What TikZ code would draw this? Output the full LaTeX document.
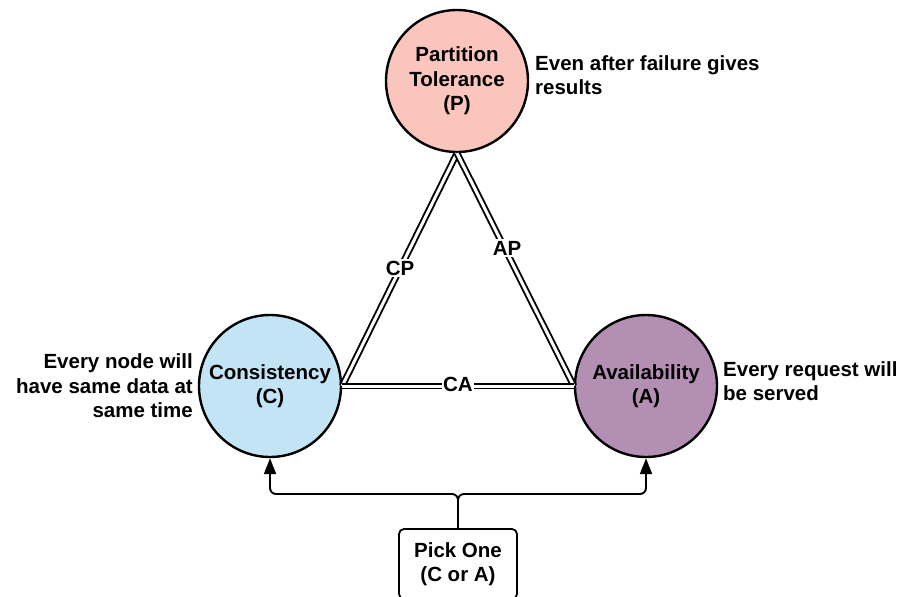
\documentclass[tikz,border=0pt]{standalone}
\usepackage{fontspec}
\setmainfont{Liberation Sans}
\usetikzlibrary{arrows.meta}
\definecolor{pfill}{RGB}{249,197,188}
\definecolor{cfill}{RGB}{194,228,244}
\definecolor{afill}{RGB}{179,144,179}
\tikzset{
  txt/.style={font=\fontsize{20.5}{24.5}\selectfont\bfseries, inner sep=0pt},
  prop/.style={circle, draw=black, line width=2.4pt, minimum size=142pt, inner sep=0pt, align=center, txt},
  pair/.style={draw=black, line width=1.9pt, double=white, double distance=3pt},
  pairlbl/.style={txt, fill=white, inner sep=1.5pt},
  pickbox/.style={draw=black, line width=1.8pt, rounded corners=5pt, minimum width=118pt, minimum height=70pt, align=center, txt},
  link/.style={draw=black, line width=1.9pt, rounded corners=6pt, -{Triangle[width=12pt,length=16pt]}},
}
\begin{document}
\begin{tikzpicture}[x=1pt, y=-1pt]
\useasboundingbox (0,0) rectangle (903,597);
\clip (0,0) rectangle (903,597);
\fill[white] (0,0) rectangle (903,597);

% the three properties
\node[prop, fill=pfill] (P) at (457,81) {Partition\\Tolerance\\(P)};
\node[prop, fill=cfill] (C) at (270,386) {Consistency\\(C)};
\node[prop, fill=afill] (A) at (646,386) {Availability\\(A)};

% pairwise trade-offs
\draw[pair] (P.south) -- (C.east);
\draw[pair] (P.south) -- (A.west);
\draw[pair] (C.east) -- (A.west);
\node[pairlbl] (cp) at (400,268) {CP};
\node[pairlbl] (ap) at (507,248) {AP};
\node[pairlbl] (ca) at (458,384) {CA};

% descriptions
\node[txt, anchor=west, align=left] (pdesc) at (535,75) {Even after failure gives\\results};
\node[txt, anchor=east, align=right] (cdesc) at (193,386) {Every node will\\have same data at\\same time};
\node[txt, anchor=west, align=left] (adesc) at (723,381) {Every request will\\be served};

% choice box
\node[pickbox] (pick) at (458,564) {Pick One\\(C or A)};
\coordinate (fork) at (458,494);
\draw[link] (pick.north) -- (fork) -| (C.south);
\draw[link] (pick.north) -- (fork) -| (A.south);
\end{tikzpicture}
\end{document}
